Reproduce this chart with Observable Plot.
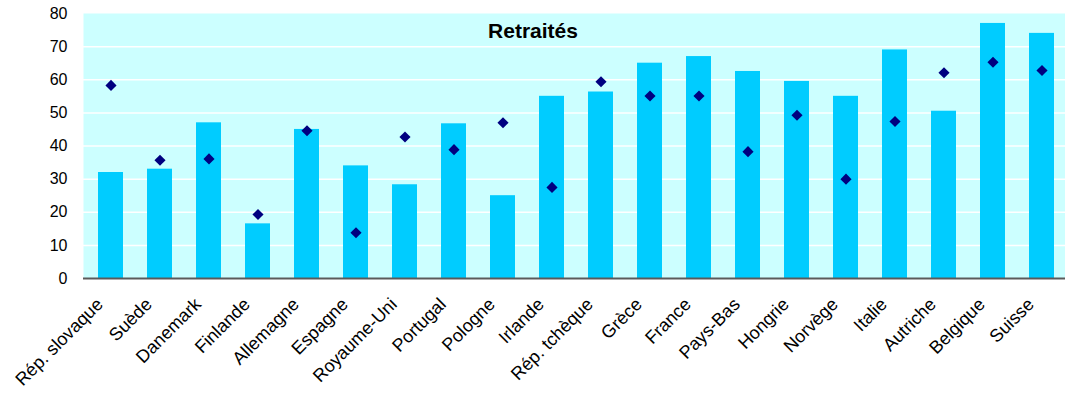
<!DOCTYPE html>
<html>
<head>
<meta charset="utf-8">
<script src="https://cdn.jsdelivr.net/npm/d3@7"></script>
<script src="https://cdn.jsdelivr.net/npm/@observablehq/plot@0.6"></script>
<style>
  html, body { margin: 0; padding: 0; background: #ffffff; }
  #chart { width: 1065px; height: 394px; overflow: hidden; }
</style>
</head>
<body>
<div id="chart"></div>
<script>
// Country order as shown along the x axis
const countries = [
  "Rép. slovaque", "Suède", "Danemark", "Finlande", "Allemagne", "Espagne",
  "Royaume-Uni", "Portugal", "Pologne", "Irlande", "Rép. tchèque", "Grèce",
  "France", "Pays-Bas", "Hongrie", "Norvège", "Italie", "Autriche",
  "Belgique", "Suisse"
];
// Bar series (retirees)
const barValues = [
  32, 33, 47, 16.5, 45, 34,
  28.3, 46.7, 25, 55, 56.3, 65,
  67, 62.5, 59.5, 55, 69, 50.5,
  77, 74
];
// Diamond series
const dotValues = [
  58.3, 35.7, 36.1, 19.3, 44.6, 13.8,
  42.7, 38.9, 47, 27.5, 59.4, 55.1,
  55.1, 38.3, 49.3, 30, 47.4, 62.1,
  65.3, 62.8
];
const yTicks = [0, 10, 20, 30, 40, 50, 60, 70, 80];
const chartTitle = "Retraités";

const rows = countries.map((country, i) => ({country, bar: barValues[i], dot: dotValues[i]}));

const chart = Plot.plot({
  width: 1065,
  height: 394,
  marginLeft: 83,
  marginRight: -3,
  marginTop: 13,
  marginBottom: 116,
  style: {fontFamily: "'Liberation Sans', Arial, sans-serif", fontSize: "16px", color: "#000", background: "#fff"},
  x: {domain: countries, paddingInner: 0.49, paddingOuter: 0.245, axis: null},
  y: {domain: [0, 80], axis: null},
  marks: [
    Plot.frame({fill: "#ccffff", stroke: null}),
    Plot.gridY(yTicks.slice(1, -1), {stroke: "#ffffff", strokeOpacity: 1, strokeWidth: 1.5}),
    Plot.barY(rows, {x: "country", y: "bar", fill: "#00ccff"}),
    Plot.ruleY([0], {stroke: "#5a5a5a", strokeWidth: 2}),
    Plot.dot(rows, {x: "country", y: "dot", symbol: "diamond2", r: 5, fill: "#000080", stroke: null}),
    Plot.axisY(yTicks, {tickSize: 0, tickPadding: 16, fontSize: 16, fill: "#000"}),
    Plot.text(countries, {
      x: d => d, frameAnchor: "bottom", dx: -7, dy: 27, rotate: -45,
      textAnchor: "end", lineAnchor: "bottom", fontSize: 18, fill: "#000"
    }),
    Plot.text([chartTitle], {
      frameAnchor: "top", dx: -43, dy: 10, fontSize: 21, fontWeight: "bold", fill: "#000"
    })
  ]
});
document.getElementById("chart").appendChild(chart);
</script>
</body>
</html>
